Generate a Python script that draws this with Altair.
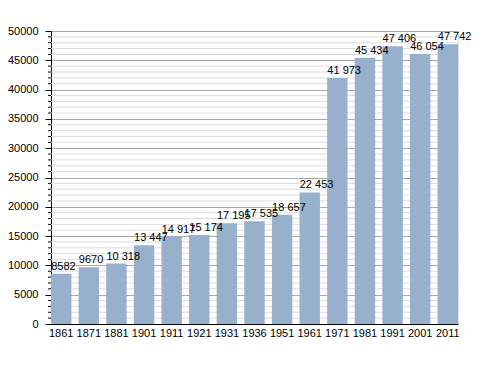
import altair as alt
import pandas as pd

years = ["1861", "1871", "1881", "1901", "1911", "1921", "1931", "1936", "1951",
         "1961", "1971", "1981", "1991", "2001", "2011"]
population = [8582, 9670, 10318, 13447, 14917, 15174, 17195, 17535, 18657,
              22453, 41973, 45434, 47406, 46054, 47742]
labels = ["8582", "9670", "10 318", "13 447", "14 917", "15 174", "17 195", "17 535",
          "18 657", "22 453", "41 973", "45 434", "47 406", "46 054", "47 742"]
minor_ticks = [v for v in range(0, 50001, 1000) if v % 5000 != 0]
major_ticks = list(range(0, 50001, 5000))

df = pd.DataFrame({"year": years, "pop": population, "label": labels})
minor_df = pd.DataFrame({"pop": minor_ticks})
FONT = "Liberation Sans"

xscale = alt.Scale(paddingInner=0.26, paddingOuter=0.0)
yscale = alt.Scale(domain=[0, 50000], nice=False)

yaxis = alt.Axis(values=major_ticks, format="d", title=None,
                 grid=True, gridColor="#a8a8a8", gridWidth=1,
                 tickSize=6, tickColor="#000000", domainColor="#000000",
                 labelFont=FONT, labelFontSize=11, labelColor="#000000",
                 labelPadding=7)
xaxis = alt.Axis(title=None, labelAngle=0, ticks=False, domainColor="#000000",
                 labelFont=FONT, labelFontSize=11, labelColor="#000000",
                 labelPadding=3)

minor_grid = alt.Chart(minor_df).mark_rule(color="#dcdcdc", strokeWidth=1).encode(
    y=alt.Y("pop:Q", scale=yscale, axis=yaxis),
)
minor_tick = alt.Chart(minor_df).mark_rule(color="#000000", strokeWidth=1).encode(
    y=alt.Y("pop:Q", scale=yscale, axis=yaxis),
    x=alt.value(-3), x2=alt.value(0),
)

bars = alt.Chart(df).mark_bar(color="#97b0cc").encode(
    x=alt.X("year:N", scale=xscale, sort=years, axis=xaxis),
    y=alt.Y("pop:Q", scale=yscale, axis=yaxis),
)

text = alt.Chart(df).mark_text(align="left", baseline="bottom", dx=-10, dy=-2,
                               font=FONT, fontSize=11, color="#000000").encode(
    x=alt.X("year:N", scale=xscale, sort=years, axis=xaxis),
    y=alt.Y("pop:Q", scale=yscale, axis=yaxis),
    text="label:N",
)

chart = alt.layer(minor_grid, minor_tick, bars, text).properties(
    width=407, height=293,
    autosize=alt.AutoSizeParams(type="none"),
    padding={"left": 43, "top": 23, "right": 22, "bottom": 40},
).configure_view(stroke=None).configure(background="#ffffff")

chart.save("out.html", embed_options={"renderer": "svg", "actions": False})
